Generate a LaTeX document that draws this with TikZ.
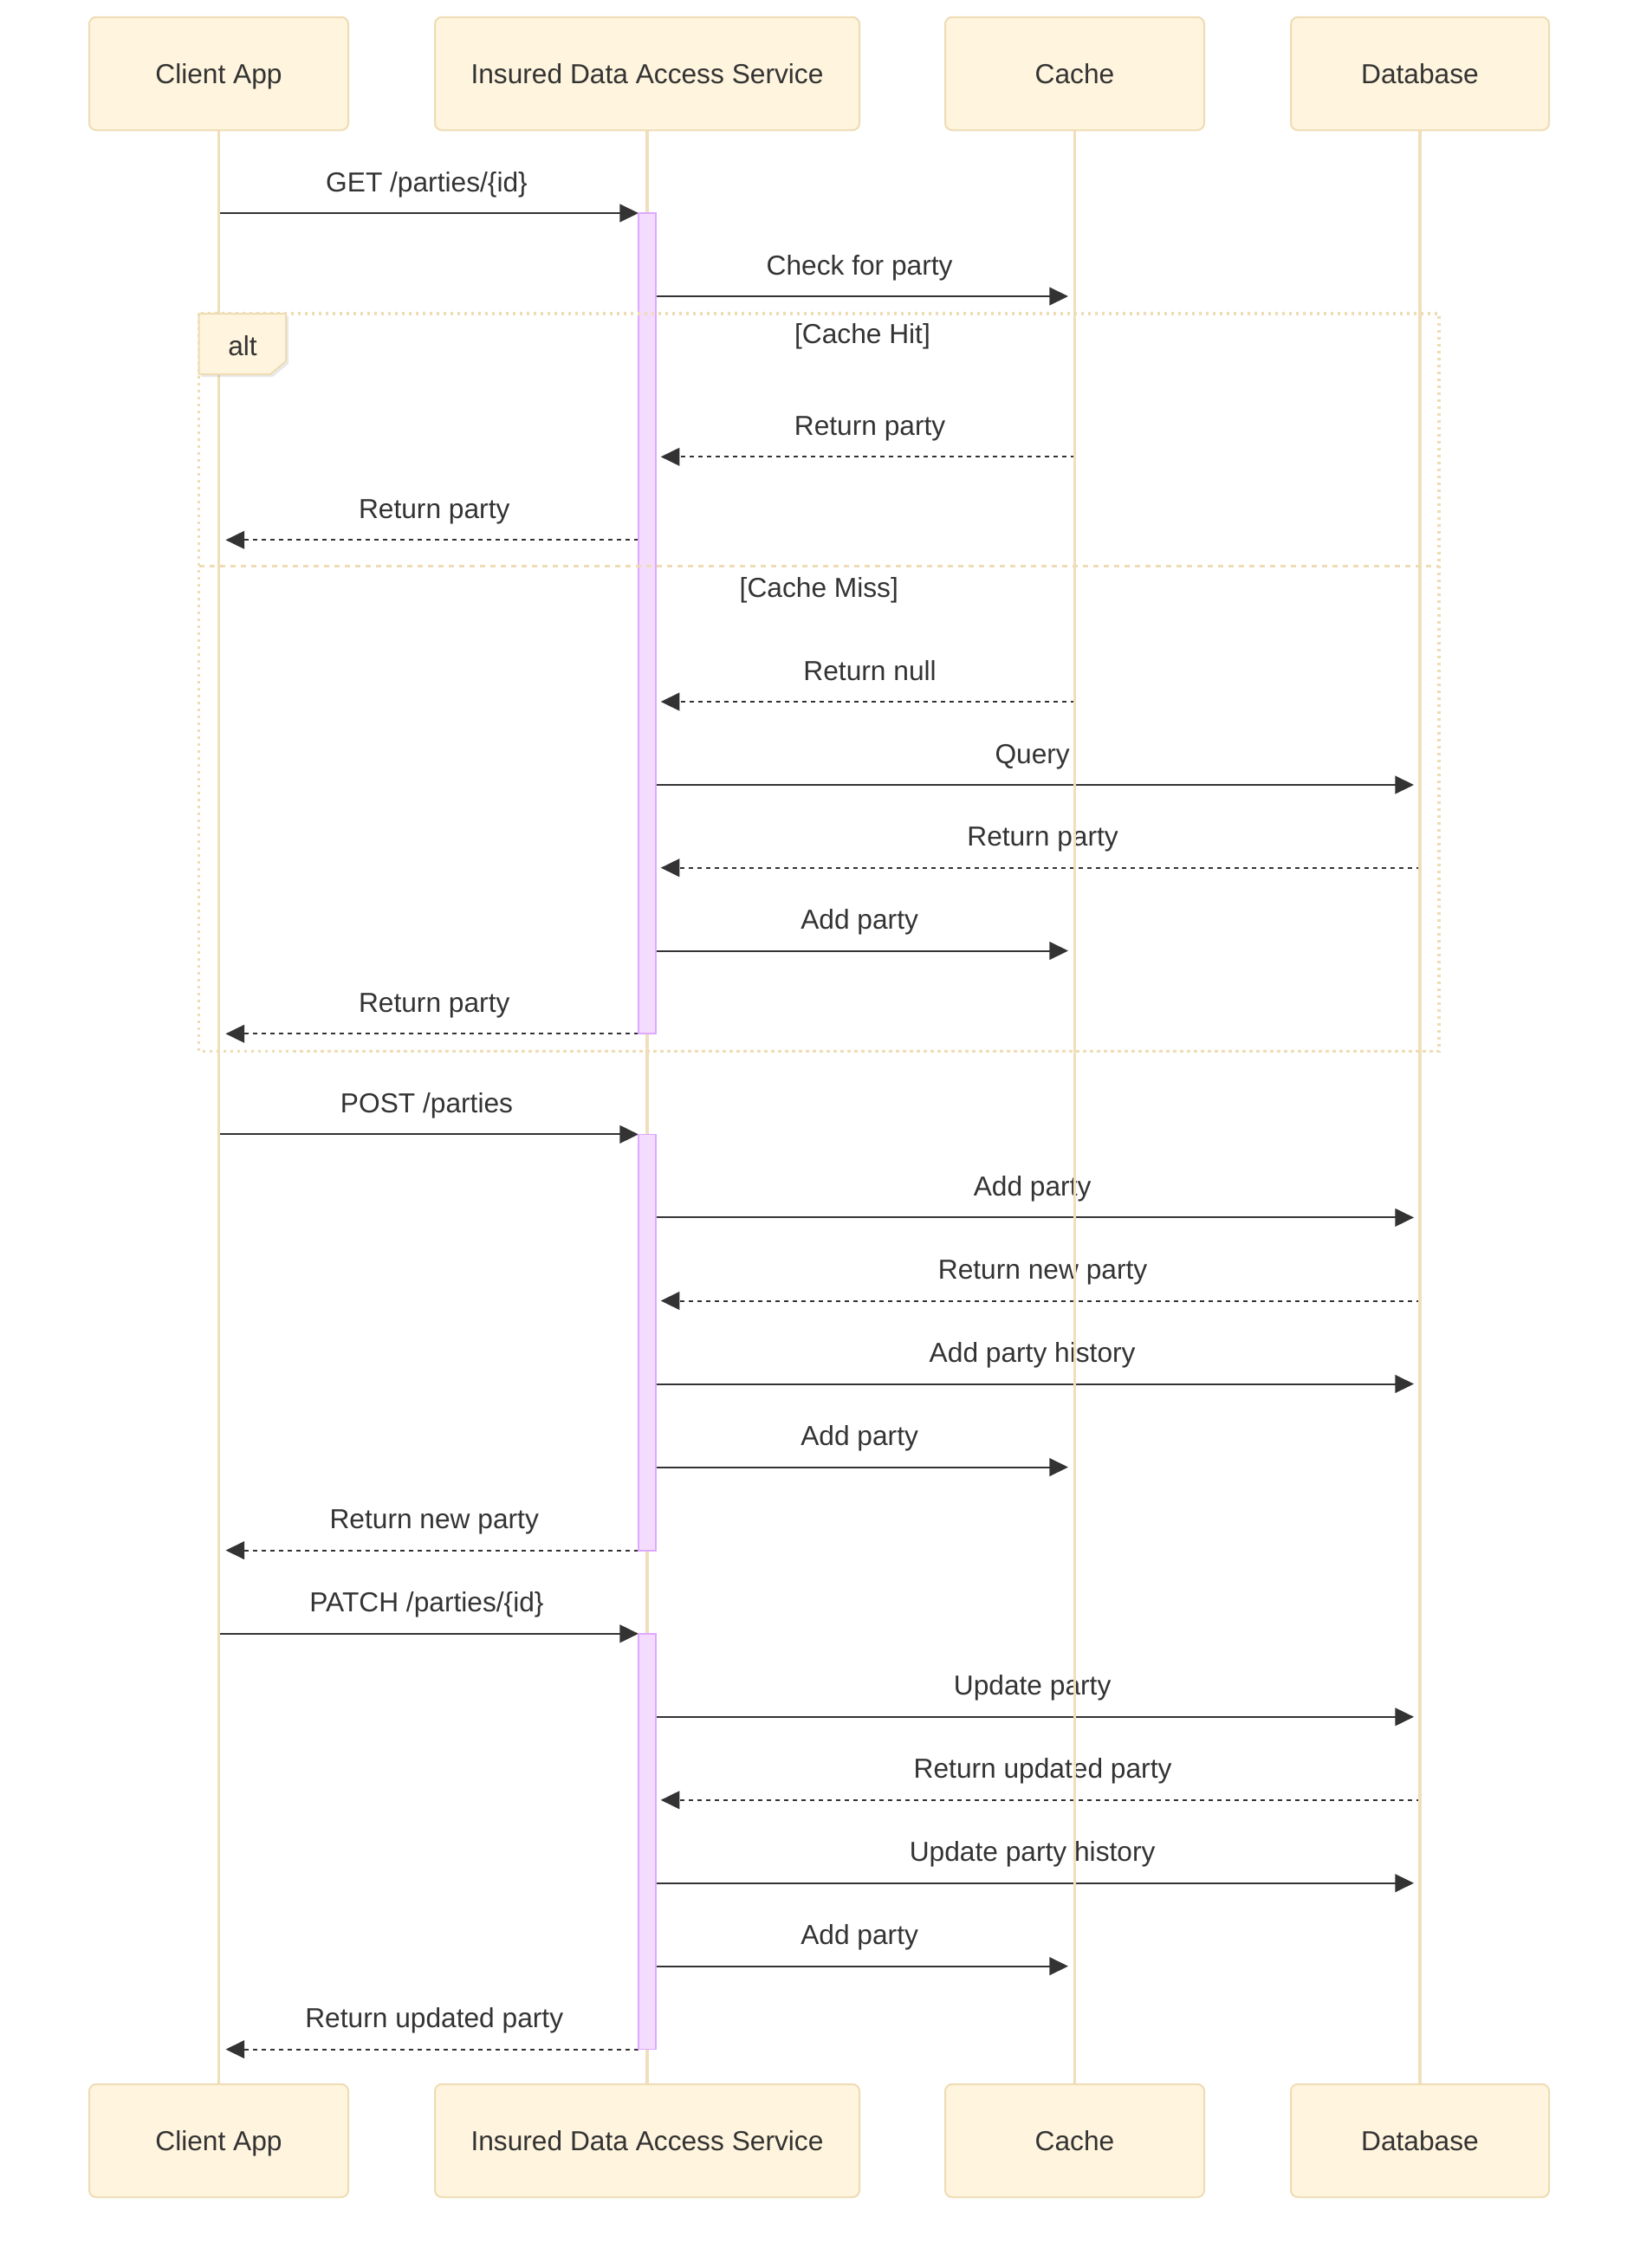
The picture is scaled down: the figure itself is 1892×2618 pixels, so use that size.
\documentclass[tikz,border=0pt]{standalone}
\usepackage{fontspec}
\setmainfont{Liberation Sans}
\usetikzlibrary{arrows.meta,shadows}
\definecolor{boxfill}{HTML}{FFF4DD}
\definecolor{boxline}{HTML}{EEDCB4}
\definecolor{lifeln}{HTML}{F0DFBA}
\definecolor{actfill}{HTML}{F4DCFF}
\definecolor{actline}{HTML}{DFA8FF}
\definecolor{ink}{HTML}{333333}
\newcommand\msgarrow[7]{% name, x1, x2, y, style, label, label x offset
  \coordinate (#1s) at (#2,#4);
  \coordinate (#1e) at (#3,#4);
  \draw[#5] (#1s) -- (#1e);
  \node[msglabel] (#1l) at ({(#2+#3)/2+#7},{#4-25}) {#6};
}
\newcommand\callmsg[5]{\msgarrow{#1}{#2}{#3}{#4}{call}{#5}{-3}}
\newcommand\replymsg[5]{\msgarrow{#1}{#2}{#3}{#4}{reply}{#5}{2.5}}
\begin{document}
\begin{tikzpicture}[x=0.5pt,y=-0.5pt,
  every node/.style={font=\fontsize{15.85pt}{19pt}\selectfont, text=ink, inner sep=0pt},
  actor/.style={draw=boxline, fill=boxfill, line width=1pt, rounded corners=4pt,
    minimum height=65.25pt, text height=11.35pt, text depth=0pt},
  lifeline/.style={draw=lifeln, line width=1.6pt},
  actbar/.style={draw=actline, fill=actfill, line width=0.85pt},
  altline/.style={draw=boxline, line width=1.6pt, dash pattern=on 1.7pt off 2.3pt},
  sepline/.style={draw=boxline, line width=1.6pt, dash pattern=on 3pt off 3pt},
  tagbox/.style={draw=boxline, fill=boxfill, line width=1pt,
    drop shadow={shadow xshift=1.5pt, shadow yshift=-1.5pt, opacity=0.18}},
  call/.style={draw=ink, line width=1pt, -{Triangle[length=10.85pt,width=10.35pt]}},
  reply/.style={draw=ink, line width=1pt, dash pattern=on 2.5pt off 2.5pt,
    -{Triangle[length=10.85pt,width=10.35pt]}},
  msglabel/.style={anchor=base},
  seclabel/.style={anchor=base}
]
\useasboundingbox (0,0) rectangle (1892,2618);

% participant positions (nodes drawn at the end, on top)
\coordinate (caC) at (252.5,85);
\coordinate (svC) at (747,85);
\coordinate (chC) at (1240.5,85);
\coordinate (dbC) at (1639,85);

% messages
\callmsg{m1}{254}{737}{246}{GET /parties/\{id\}}
\callmsg{m2}{757.3}{1233}{342}{Check for party}
\replymsg{m3}{1240.5}{762.7}{527.3}{Return party}
\replymsg{m4}{737}{260.5}{623.3}{Return party}
\replymsg{m5}{1240.5}{762.7}{810}{Return null}
\callmsg{m6}{757.3}{1632}{906}{Query}
\replymsg{m7}{1639.5}{762.7}{1001.7}{Return party}
\callmsg{m8}{757.3}{1233}{1097.5}{Add party}
\replymsg{m9}{737}{260.5}{1193.3}{Return party}
\callmsg{m10}{254}{737}{1309.4}{POST /parties}
\callmsg{m11}{757.3}{1632}{1405.4}{Add party}
\replymsg{m12}{1639.5}{762.7}{1501.5}{Return new party}
\callmsg{m13}{757.3}{1632}{1597.5}{Add party history}
\callmsg{m14}{757.3}{1233}{1693.6}{Add party}
\replymsg{m15}{737}{260.5}{1789.6}{Return new party}
\callmsg{m16}{254}{737}{1885.8}{PATCH /parties/\{id\}}
\callmsg{m17}{757.3}{1632}{1981.8}{Update party}
\replymsg{m18}{1639.5}{762.7}{2077.8}{Return updated party}
\callmsg{m19}{757.3}{1632}{2173.7}{Update party history}
\callmsg{m20}{757.3}{1233}{2269.6}{Add party}
\replymsg{m21}{737}{260.5}{2365.6}{Return updated party}

% lifelines
\draw[lifeline] (252.5,150) -- (252.5,2406);
\draw[lifeline] (747,150) -- (747,2406);
\draw[lifeline] (1240.5,150) -- (1240.5,2406);
\draw[lifeline] (1639,150) -- (1639,2406);

% activations
\draw[actbar] (737,246) rectangle (757.3,1193.3);
\draw[actbar] (737,1309.4) rectangle (757.3,1789.7);
\draw[actbar] (737,1886) rectangle (757.3,2365.5);

% alt frame
\draw[altline] (229.6,362) rectangle (1661,1213.5);
\draw[sepline] (229.6,653.5) -- (1661,653.5);
\draw[tagbox] (229.6,362) -- (330,362) -- (330,417) -- (312,432) -- (229.6,432) -- cycle;
\node[seclabel] (altl) at (280,410) {alt};
\node[seclabel] (hit) at (995.5,396) {[Cache Hit]};
\node[seclabel] (miss) at (945.3,689.5) {[Cache Miss]};

% participants (top)
\node[actor, minimum width=149.5pt] (ca) at (caC) {Client App};
\node[actor, minimum width=245pt] (sv) at (svC) {Insured Data Access Service};
\node[actor, minimum width=149.5pt] (ch) at (chC) {Cache};
\node[actor, minimum width=149pt] (db) at (dbC) {Database};
% participants (bottom)
\node[actor, minimum width=149.5pt] (cab) at (252.5,2471) {Client App};
\node[actor, minimum width=245pt] (svb) at (747,2471) {Insured Data Access Service};
\node[actor, minimum width=149.5pt] (chb) at (1240.5,2471) {Cache};
\node[actor, minimum width=149pt] (dbb) at (1639,2471) {Database};
\end{tikzpicture}
\end{document}
